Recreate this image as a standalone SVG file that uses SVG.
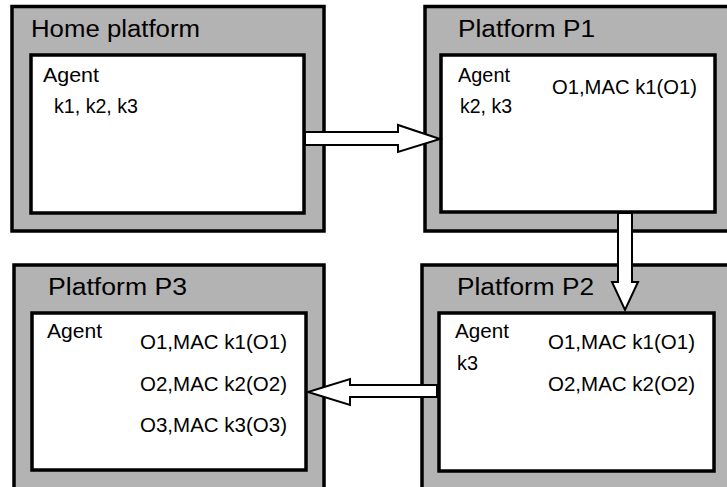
<svg xmlns="http://www.w3.org/2000/svg" width="727" height="487" viewBox="0 0 727 487">
  <style>
    .outer { fill: #b3b3b3; stroke: #000; stroke-width: 3.5; }
    .inner { fill: #fff; stroke: #000; stroke-width: 3.5; }
    .title { font-family: "Liberation Sans", Arial, sans-serif; font-size: 23px; fill: #000; }
    .lbl { font-family: "Liberation Sans", Arial, sans-serif; font-size: 21px; fill: #000; }
    .arrow { fill: #fff; stroke: #000; stroke-width: 2; stroke-linejoin: miter; }
  </style>
  <rect width="727" height="487" fill="#fff"/>

  <g id="home">
    <rect class="outer" x="12" y="6.5" width="312" height="224.5"/>
    <rect class="inner" x="31" y="55" width="273" height="158"/>
    <text class="title" x="31" y="37" textLength="169" lengthAdjust="spacingAndGlyphs">Home platform</text>
    <text class="lbl" x="43" y="82" textLength="56" lengthAdjust="spacingAndGlyphs">Agent</text>
    <text class="lbl" x="54" y="113" textLength="84" lengthAdjust="spacingAndGlyphs">k1, k2, k3</text>
  </g>

  <g id="p1">
    <rect class="outer" x="425" y="6.5" width="312" height="224.5"/>
    <rect class="inner" x="441" y="55" width="274" height="157"/>
    <text class="title" x="458" y="37" textLength="137" lengthAdjust="spacingAndGlyphs">Platform P1</text>
    <text class="lbl" x="458" y="82" textLength="52" lengthAdjust="spacingAndGlyphs">Agent</text>
    <text class="lbl" x="460" y="113" textLength="52" lengthAdjust="spacingAndGlyphs">k2, k3</text>
    <text class="lbl" x="552" y="94" textLength="145" lengthAdjust="spacingAndGlyphs">O1,MAC k1(O1)</text>
  </g>

  <g id="p2">
    <rect class="outer" x="422" y="265" width="315" height="230"/>
    <rect class="inner" x="439" y="313" width="275" height="158"/>
    <text class="title" x="457" y="295" textLength="137" lengthAdjust="spacingAndGlyphs">Platform P2</text>
    <text class="lbl" x="455" y="338" textLength="54" lengthAdjust="spacingAndGlyphs">Agent</text>
    <text class="lbl" x="457" y="370" textLength="21" lengthAdjust="spacingAndGlyphs">k3</text>
    <text class="lbl" x="548" y="349" textLength="147" lengthAdjust="spacingAndGlyphs">O1,MAC k1(O1)</text>
    <text class="lbl" x="548" y="391" textLength="147" lengthAdjust="spacingAndGlyphs">O2,MAC k2(O2)</text>
  </g>

  <g id="p3">
    <rect class="outer" x="14" y="265" width="310" height="230"/>
    <rect class="inner" x="32" y="313" width="274" height="157"/>
    <text class="title" x="48" y="295" textLength="139" lengthAdjust="spacingAndGlyphs">Platform P3</text>
    <text class="lbl" x="47" y="338" textLength="55" lengthAdjust="spacingAndGlyphs">Agent</text>
    <text class="lbl" x="140" y="349" textLength="147" lengthAdjust="spacingAndGlyphs">O1,MAC k1(O1)</text>
    <text class="lbl" x="140" y="391" textLength="147" lengthAdjust="spacingAndGlyphs">O2,MAC k2(O2)</text>
    <text class="lbl" x="140" y="432" textLength="147" lengthAdjust="spacingAndGlyphs">O3,MAC k3(O3)</text>
  </g>

  <g id="connectors">
    <polygon class="arrow" points="305,132 398,132 398,125 440,139 398,152 398,145 305,145"/>
    <polygon class="arrow" points="618,213 632,213 632,282 638,282 625,310 612,282 618,282"/>
    <polygon class="arrow" points="437,385 350,385 350,379 308,392 350,405 350,397 437,397"/>
  </g>
</svg>
